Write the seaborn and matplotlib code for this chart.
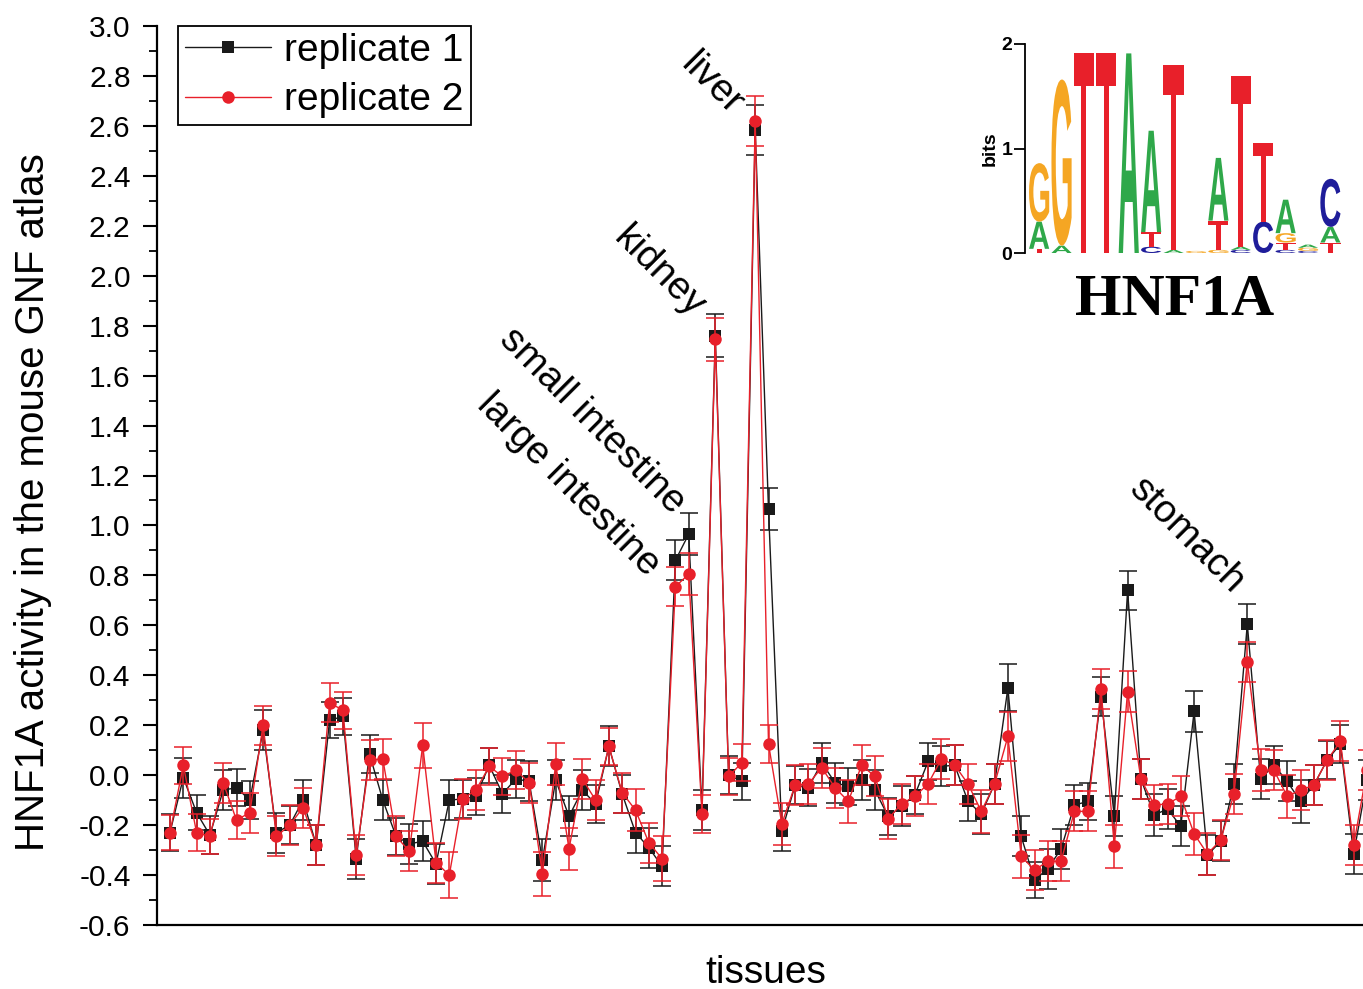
import matplotlib
matplotlib.use("Agg")
import matplotlib.pyplot as plt
import numpy as np
import pandas as pd
import seaborn as sns
from matplotlib.patheffects import AbstractPathEffect
from matplotlib.transforms import Affine2D

# ---------------- data ----------------
tissue_index = list(range(1, 92))

rep1 = [-0.23, -0.01, -0.15, -0.24, -0.06, -0.05, -0.10, 0.18, -0.23, -0.20,
        -0.10, -0.28, 0.22, 0.235, -0.335, 0.085, -0.10, -0.245, -0.275, -0.265,
        -0.355, -0.10, -0.095, -0.085, 0.04, -0.075, -0.015, -0.025, -0.34, -0.02,
        -0.165, -0.06, -0.115, 0.115, -0.075, -0.23, -0.29, -0.365, 0.86, 0.965,
        -0.14, 1.76, 0.0, -0.025, 2.585, 1.065, -0.225, -0.04, -0.05, 0.05,
        -0.03, -0.045, -0.02, -0.06, -0.165, -0.125, -0.08, 0.055, 0.035, 0.04,
        -0.105, -0.155, -0.035, 0.35, -0.245, -0.42, -0.375, -0.295, -0.12, -0.105,
        0.315, -0.165, 0.74, -0.015, -0.16, -0.135, -0.205, 0.255, -0.32, -0.265,
        -0.035, 0.605, -0.015, 0.04, -0.025, -0.105, -0.04, 0.06, 0.125, -0.315, -0.02]

rep2 = [-0.23, 0.04, -0.23, -0.245, -0.03, -0.18, -0.15, 0.20, -0.245, -0.20,
        -0.13, -0.28, 0.29, 0.26, -0.32, 0.06, 0.065, -0.245, -0.305, 0.12,
        -0.35, -0.40, -0.095, -0.06, 0.035, -0.005, 0.02, -0.03, -0.395, 0.045,
        -0.295, -0.015, -0.10, 0.115, -0.07, -0.14, -0.27, -0.335, 0.755, 0.805,
        -0.155, 1.745, -0.005, 0.05, 2.62, 0.125, -0.195, -0.04, -0.035, 0.03,
        -0.05, -0.105, 0.04, -0.005, -0.175, -0.115, -0.085, -0.035, 0.065, 0.04,
        -0.035, -0.145, -0.035, 0.155, -0.325, -0.38, -0.345, -0.345, -0.145, -0.145,
        0.345, -0.285, 0.335, -0.015, -0.12, -0.115, -0.085, -0.235, -0.315, -0.26,
        -0.075, 0.455, 0.02, 0.02, -0.085, -0.06, -0.04, 0.06, 0.135, -0.28, 0.02]

err1 = [0.075, 0.08, 0.07, 0.075, 0.08, 0.075, 0.075, 0.08, 0.08, 0.075,
        0.08, 0.08, 0.072, 0.075, 0.08, 0.075, 0.08, 0.075, 0.08, 0.08,
        0.08, 0.08, 0.075, 0.075, 0.07, 0.075, 0.075, 0.08, 0.083, 0.08,
        0.08, 0.08, 0.075, 0.08, 0.075, 0.08, 0.08, 0.08, 0.08, 0.085,
        0.08, 0.087, 0.075, 0.075, 0.10, 0.083, 0.08, 0.075, 0.075, 0.08,
        0.08, 0.075, 0.08, 0.08, 0.075, 0.08, 0.075, 0.075, 0.08, 0.08,
        0.08, 0.08, 0.08, 0.095, 0.08, 0.073, 0.08, 0.08, 0.08, 0.075,
        0.08, 0.08, 0.079, 0.08, 0.085, 0.08, 0.08, 0.082, 0.08, 0.08,
        0.08, 0.08, 0.08, 0.075, 0.08, 0.085, 0.08, 0.075, 0.075, 0.08, 0.08]

err2 = [0.07, 0.074, 0.075, 0.07, 0.08, 0.075, 0.08, 0.078, 0.08, 0.08,
        0.08, 0.08, 0.079, 0.075, 0.08, 0.08, 0.08, 0.08, 0.08, 0.09,
        0.08, 0.093, 0.08, 0.08, 0.075, 0.075, 0.075, 0.08, 0.087, 0.085,
        0.085, 0.08, 0.08, 0.075, 0.08, 0.085, 0.08, 0.09, 0.077, 0.083,
        0.075, 0.087, 0.075, 0.075, 0.10, 0.075, 0.085, 0.08, 0.08, 0.08,
        0.08, 0.085, 0.08, 0.08, 0.08, 0.08, 0.08, 0.08, 0.08, 0.08,
        0.08, 0.085, 0.08, 0.097, 0.085, 0.08, 0.08, 0.08, 0.08, 0.08,
        0.08, 0.085, 0.082, 0.08, 0.08, 0.08, 0.08, 0.085, 0.085, 0.08,
        0.08, 0.08, 0.085, 0.08, 0.085, 0.08, 0.08, 0.08, 0.08, 0.08, 0.08]

series_labels = ["replicate 1", "replicate 2"]
peak_labels = ["large intestine", "small intestine", "kidney", "liver", "stomach"]
peak_index = [39, 40, 42, 45, 82]
y_ticks = [-0.6, -0.4, -0.2, 0.0, 0.2, 0.4, 0.6, 0.8, 1.0, 1.2, 1.4, 1.6, 1.8,
           2.0, 2.2, 2.4, 2.6, 2.8, 3.0]

logo_title = "HNF1A"
logo_letters = ["TAG", "AG", "T", "T", "A", "CTA", "AT", "G", "GTA", "CAT",
                "CT", "CTGA", "CGA", "TAC"]
logo_heights = [[0.04, 0.26, 0.56], [0.07, 1.59], [1.91], [1.91], [1.91],
                [0.06, 0.14, 0.97], [0.03, 1.77], [0.02], [0.03, 0.28, 0.60],
                [0.03, 0.03, 1.63], [0.30, 0.75], [0.03, 0.07, 0.09, 0.32],
                [0.02, 0.03, 0.03], [0.10, 0.15, 0.46]]
logo_ticks = [0, 1, 2]

# ---------------- style ----------------
sns.set_theme(style="ticks")
plt.rcParams["font.family"] = ["Liberation Sans", "DejaVu Sans"]
plt.rcParams["axes.unicode_minus"] = False
for k in ["text.color", "axes.labelcolor", "xtick.color", "ytick.color", "axes.edgecolor"]:
    plt.rcParams[k] = "black"

W, H = 1363, 989
fig = plt.figure(figsize=(W / 100, H / 100), dpi=100)
fig.patch.set_facecolor("white")

ax = fig.add_axes([157 / W, (H - 925) / H, 1218 / W, 899 / H])

colors = {"replicate 1": "#1a1a1a", "replicate 2": "#e8202a"}

# error bars
ax.errorbar(tissue_index, rep1, yerr=err1, fmt="none", ecolor=colors["replicate 1"],
            elinewidth=1.1, capsize=6.5, capthick=1.1, zorder=2)
ax.errorbar(tissue_index, rep2, yerr=err2, fmt="none", ecolor=colors["replicate 2"],
            elinewidth=1.1, capsize=6.5, capthick=1.1, zorder=4)

df = pd.DataFrame({
    "tissue": tissue_index * 2,
    "activity": rep1 + rep2,
    "replicate": [series_labels[0]] * len(rep1) + [series_labels[1]] * len(rep2),
})
n_before = len(ax.lines)
sns.lineplot(data=df, x="tissue", y="activity", hue="replicate", style="replicate",
             markers={series_labels[0]: "s", series_labels[1]: "o"}, dashes=False,
             palette=colors, ax=ax, linewidth=1.0, legend=False,
             markeredgewidth=0)
data_lines = ax.lines[n_before:]
sizes = [8.0, 9.0]
zs = [3, 5]
for ln, ms, z in zip(data_lines, sizes, zs):
    ln.set_markersize(ms)
    ln.set_zorder(z)
    ln.set_markeredgecolor(ln.get_color())

ax.set_xlim(1 - 13 / 13.3, 1 + (1375 - 170) / 13.3)
ax.set_ylim(-0.6, 3.0)
ax.set_xticks([])
ax.set_yticks(y_ticks)
ax.set_yticklabels(["%.1f" % v for v in y_ticks], fontsize=21.5)
ax.set_yticks(np.arange(-0.5, 3.0, 0.2), minor=True)
ax.tick_params(axis="y", which="major", direction="out", length=10, width=1.5, pad=9)
ax.tick_params(axis="y", which="minor", direction="out", length=6, width=1.3)
for s in ["top", "right"]:
    ax.spines[s].set_visible(False)
for s in ["left", "bottom"]:
    ax.spines[s].set_linewidth(1.6)
ax.grid(False)

ax.set_ylabel("HNF1A activity in the mouse GNF atlas", fontsize=29)
ax.yaxis.set_label_coords(-0.086, 0.47)
ax.set_xlabel("tissues", fontsize=28)
ax.xaxis.set_label_coords(0.5, -0.033)

leg = ax.legend(handles=list(data_lines), labels=series_labels, loc="upper left",
                bbox_to_anchor=(21 / 1218, 1.0), borderaxespad=0, fontsize=28,
                frameon=True, fancybox=False, edgecolor="black", framealpha=1,
                handlelength=2.2, handletextpad=0.35, labelspacing=0.34, borderpad=0.18)
leg.get_frame().set_linewidth(1.3)

offsets = {"large intestine": (-20.5, -12), "small intestine": (-12, 14),
           "kidney": (-17.5, 12), "liver": (-18.5, 9.5), "stomach": (-11, 21)}
for lab, idx in zip(peak_labels, peak_index):
    ax.annotate(lab, xy=(idx, rep1[idx - 1]), xytext=offsets[lab],
                textcoords="offset points", rotation=-45, rotation_mode="anchor",
                ha="right", va="baseline", fontsize=28, zorder=6)

# ---------------- sequence logo inset ----------------
class FillCell(AbstractPathEffect):
    """Draw the glyph stretched to fill a data-space cell of the logo axes."""
    def __init__(self, axes, x0, y0, w, h):
        super().__init__()
        self.axes_ = axes
        self.cell = (x0, y0, w, h)

    def draw_path(self, renderer, gc, tpath, affine, rgbFace=None):
        x0, y0, w, h = self.cell
        (X0, Y0), (X1, Y1) = self.axes_.transData.transform([(x0, y0), (x0 + w, y0 + h)])
        ext = tpath.get_extents()
        if ext.width <= 0 or ext.height <= 0:
            return
        tr = (Affine2D().translate(-ext.x0, -ext.y0)
              .scale((X1 - X0) / ext.width, (Y1 - Y0) / ext.height)
              .translate(X0, Y0))
        gc0 = renderer.new_gc()
        gc0.copy_properties(gc)
        renderer.draw_path(gc0, tpath, tr, rgbFace)
        gc0.restore()

logo_colors = {"A": "#2fa84a", "C": "#1f1d9a", "G": "#f5a623", "T": "#e8202a"}

lax = fig.add_axes([1025 / W, (H - 253) / H, 320 / W, 209 / H])
lax.set_xlim(-0.13, 14.15)
lax.set_ylim(0, 2)
lax.patch.set_alpha(0)
for s in ["top", "right", "bottom"]:
    lax.spines[s].set_visible(False)
lax.spines["left"].set_linewidth(1.3)
lax.set_xticks([])
lax.set_yticks(logo_ticks)
lax.set_yticklabels([str(v) for v in logo_ticks], fontsize=14, fontweight="bold")
lax.tick_params(axis="y", direction="out", length=8, width=1.3, pad=1)
lax.set_ylabel("bits", fontsize=14, fontweight="bold", labelpad=2)
lax.grid(False)

# each logo letter is a real text object; the path effect stretches its glyph to the cell
for i, (letters, heights) in enumerate(zip(logo_letters, logo_heights)):
    y = 0.0
    for ch, hgt in zip(letters, heights):
        t = lax.text(i + 0.5, y + hgt / 2, ch, fontsize=0.6, fontweight="bold",
                     color=logo_colors[ch], ha="center", va="center")
        t.set_path_effects([FillCell(lax, i + 0.05, y, 0.9, hgt)])
        y += hgt

fig.text(1175 / W, 1 - 315 / H, logo_title, fontsize=43, fontweight="bold",
         family=["Liberation Serif", "DejaVu Serif"], ha="center", va="baseline")

fig.savefig("out.png", dpi=100, facecolor="white")
